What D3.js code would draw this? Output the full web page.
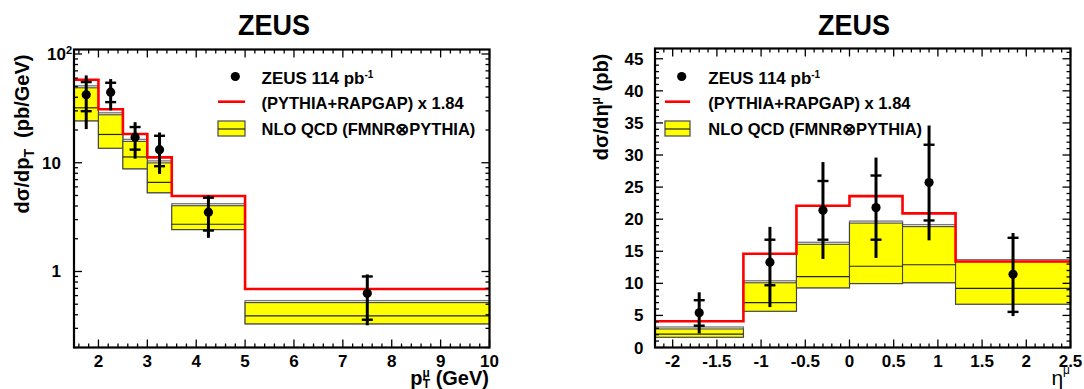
<!DOCTYPE html>
<html><head><meta charset="utf-8">
<script src="https://cdn.jsdelivr.net/npm/d3@7"></script>
<style>
body{margin:0;background:#fff;}
text{font-family:"Liberation Sans",Arial,Helvetica,sans-serif;font-weight:bold;fill:#000;}
</style></head>
<body>
<svg id="chart" width="1084" height="389"></svg>
<script>
// ---------- data: muon pT ----------
const ptEdges   = [1.5, 2, 2.5, 3, 3.5, 5, 10];
const ptMC      = [58, 31, 18.4, 11.2, 4.95, 0.69];   // (PYTHIA+RAPGAP) x 1.84
const ptNloHi   = [51, 28.8, 16.4, 10.4, 4.2, 0.54];
const ptNloMid  = [32, 18.2, 11.3, 6.6, 2.72, 0.39];
const ptNloLo   = [24.3, 13.6, 8.8, 5.3, 2.43, 0.33];
const ptX       = [1.75, 2.25, 2.75, 3.25, 4.25, 7.5];
const ptY       = [42.2, 44.6, 17.2, 13.2, 3.51, 0.63];
const ptStatHi  = [55.2, 54.4, 21.3, 17.7, 4.77, 0.9];
const ptStatLo  = [29.8, 36.1, 13.2, 9.3, 2.38, 0.36];
const ptTotHi   = [63.5, 58.8, 23.6, 19.0, 5.0, 0.94];
const ptTotLo   = [20.4, 30.3, 10.9, 7.9, 2.04, 0.32];

// ---------- data: muon eta ----------
const etaEdges  = [-2.2, -1.2, -0.6, 0, 0.6, 1.2, 2.5];
const etaMC     = [4.1, 14.6, 22.1, 23.6, 20.9, 13.4];
const etaNloHi  = [3.2, 10.4, 16.4, 19.7, 19.15, 13.7];
const etaNloMid = [2.07, 7.0, 11.05, 12.66, 12.9, 9.2];
const etaNloLo  = [1.6, 5.65, 9.3, 9.97, 10.1, 6.75];
const etaX      = [-1.7, -0.9, -0.3, 0.3, 0.9, 1.85];
const etaY      = [5.4, 13.3, 21.4, 21.8, 25.7, 11.4];
const etaStatHi = [7.37, 16.8, 25.95, 26.8, 31.6, 17.1];
const etaStatLo = [3.4, 9.7, 16.8, 16.8, 19.8, 5.55];
const etaTotHi  = [8.6, 18.8, 28.9, 29.6, 34.6, 17.85];
const etaTotLo  = [2.2, 6.3, 13.8, 13.96, 16.7, 4.9];

// ---------- tick labels ----------
const ptXTicks  = [2, 3, 4, 5, 6, 7, 8, 9, 10];
const ptYTicks  = [1, 10, 100];
const etaXTicks = [-2, -1.5, -1, -0.5, 0, 0.5, 1, 1.5, 2, 2.5];
const etaYTicks = [0, 5, 10, 15, 20, 25, 30, 35, 40, 45];
const legendLabels = ["ZEUS 114 pb", "(PYTHIA+RAPGAP) x 1.84", "NLO QCD (FMNR\u2297PYTHIA)"];

const svg = d3.select("#chart");
const RED = "#ff0000", YEL = "#ffff00";

function panel(o) {
  const g = svg.append("g");
  const x = o.x, y = o.y;
  const [x0, x1] = x.range(), [yb, yt] = y.range();
  const n = o.edges.length - 1;
  const bins = d3.range(n).map(i => ({lo: o.edges[i], hi: o.edges[i+1], mc: o.mc[i],
      nhi: o.nhi[i], nmid: o.nmid[i], nlo: o.nlo[i]}));

  // NLO band: gray outline, yellow fill slightly inset at the top
  g.selectAll("rect.band").data(bins).join("rect")
    .attr("x", d => x(d.lo)).attr("width", d => x(d.hi) - x(d.lo))
    .attr("y", d => y(d.nhi)).attr("height", d => y(d.nlo) - y(d.nhi))
    .attr("fill", "#fff").attr("stroke", "#777").attr("stroke-width", 1.3);
  g.selectAll("rect.fill").data(bins).join("rect")
    .attr("x", d => x(d.lo)).attr("width", d => x(d.hi) - x(d.lo))
    .attr("y", d => y(d.nhi) + 2).attr("height", d => y(d.nlo) - y(d.nhi) - 2)
    .attr("fill", YEL).attr("stroke", "#444").attr("stroke-width", 1.1);
  g.selectAll("line.mid").data(bins).join("line")
    .attr("x1", d => x(d.lo)).attr("x2", d => x(d.hi))
    .attr("y1", d => y(d.nmid)).attr("y2", d => y(d.nmid))
    .attr("stroke", "#222").attr("stroke-width", 1.2);

  // MC step line
  const pts = [];
  bins.forEach(d => { pts.push([d.lo, d.mc]); pts.push([d.hi, d.mc]); });
  g.append("path").attr("d", d3.line().x(d => x(d[0])).y(d => y(d[1]))(pts))
    .attr("fill", "none").attr("stroke", RED).attr("stroke-width", 2.6);

  // data points
  const pd = d3.range(n).map(i => ({x: o.px[i], y: o.py[i], sh: o.sh[i], sl: o.sl[i], th: o.th[i], tl: o.tl[i]}));
  const pg = g.append("g");
  pg.selectAll("line.tot").data(pd).join("line")
    .attr("x1", d => x(d.x)).attr("x2", d => x(d.x))
    .attr("y1", d => y(d.th)).attr("y2", d => y(d.tl))
    .attr("stroke", "#000").attr("stroke-width", 3);
  ["sh", "sl"].forEach(k => {
    pg.selectAll("line." + k).data(pd).join("line")
      .attr("x1", d => x(d.x) - 5.5).attr("x2", d => x(d.x) + 5.5)
      .attr("y1", d => y(d[k])).attr("y2", d => y(d[k]))
      .attr("stroke", "#000").attr("stroke-width", 2.4);
  });
  pg.selectAll("circle").data(pd).join("circle")
    .attr("cx", d => x(d.x)).attr("cy", d => y(d.y)).attr("r", 4.6).attr("fill", "#000");

  // ticks
  const tg = g.append("g").attr("stroke", "#000").attr("stroke-width", 1.3);
  o.xMajor.forEach(v => {
    tg.append("line").attr("x1", x(v)).attr("x2", x(v)).attr("y1", yb).attr("y2", yb - 8);
    tg.append("line").attr("x1", x(v)).attr("x2", x(v)).attr("y1", yt).attr("y2", yt + 8);
  });
  o.xMinor.forEach(v => {
    tg.append("line").attr("x1", x(v)).attr("x2", x(v)).attr("y1", yb).attr("y2", yb - 4);
    tg.append("line").attr("x1", x(v)).attr("x2", x(v)).attr("y1", yt).attr("y2", yt + 4);
  });
  o.yMajor.forEach(v => {
    tg.append("line").attr("x1", x0).attr("x2", x0 + 8).attr("y1", y(v)).attr("y2", y(v));
    tg.append("line").attr("x1", x1).attr("x2", x1 - 8).attr("y1", y(v)).attr("y2", y(v));
  });
  o.yMinor.forEach(v => {
    tg.append("line").attr("x1", x0).attr("x2", x0 + 4).attr("y1", y(v)).attr("y2", y(v));
    tg.append("line").attr("x1", x1).attr("x2", x1 - 4).attr("y1", y(v)).attr("y2", y(v));
  });

  // frame
  g.append("rect").attr("x", x0).attr("y", yt).attr("width", x1 - x0).attr("height", yb - yt)
    .attr("fill", "none").attr("stroke", "#000").attr("stroke-width", 2.2);

  // x tick labels
  g.selectAll("text.xl").data(o.xTicks).join("text")
    .attr("x", d => x(d)).attr("y", yb + 19.5).attr("text-anchor", "middle")
    .attr("font-size", 17).text(d => String(d));

  // title
  g.append("text").attr("x", o.titleX).attr("y", 35).attr("text-anchor", "middle")
    .attr("font-size", 30).attr("textLength", 72).attr("lengthAdjust", "spacingAndGlyphs").text("ZEUS");

  // legend
  const L = o.leg;
  g.append("circle").attr("cx", L.mx).attr("cy", 76.5).attr("r", 4.6).attr("fill", "#000");
  g.append("line").attr("x1", L.x0).attr("x2", L.x1).attr("y1", 101.7).attr("y2", 101.7)
    .attr("stroke", RED).attr("stroke-width", 2.6);
  g.append("rect").attr("x", L.x0).attr("y", 121).attr("width", L.x1 - L.x0).attr("height", 15)
    .attr("fill", YEL).attr("stroke", "#555").attr("stroke-width", 1.3);
  g.append("line").attr("x1", L.x0).attr("x2", L.x1).attr("y1", 129).attr("y2", 129)
    .attr("stroke", "#222").attr("stroke-width", 1.2);
  const t1 = g.append("text").attr("x", L.tx).attr("y", 83.5).attr("font-size", 17).text(legendLabels[0]);
  t1.append("tspan").attr("dy", -6).attr("font-size", 10).text("-1");
  g.append("text").attr("x", L.tx).attr("y", 108.5).attr("font-size", 16.5).text(legendLabels[1]);
  g.append("text").attr("x", L.tx).attr("y", 134.5).attr("font-size", 16.5).text(legendLabels[2]);
  return g;
}

// ---------- left panel: pT ----------
const xPt = d3.scaleLinear().domain([1.5, 10]).range([74, 489.5]);
const yPt = d3.scaleLog().domain([0.2, 110]).range([347.5, 49.5]);
const logMinor = [];
[0.1, 1, 10].forEach(dec => d3.range(2, 10).forEach(k => { const v = k * dec; if (v >= 0.2 && v <= 110) logMinor.push(v); }));
const gL = panel({
  x: xPt, y: yPt, edges: ptEdges, mc: ptMC, nhi: ptNloHi, nmid: ptNloMid, nlo: ptNloLo,
  px: ptX, py: ptY, sh: ptStatHi, sl: ptStatLo, th: ptTotHi, tl: ptTotLo,
  xMajor: ptXTicks, xMinor: d3.range(16, 100, 2).map(v => v / 10).filter(v => Math.abs(v - Math.round(v)) > 1e-6),
  yMajor: ptYTicks, yMinor: logMinor, xTicks: ptXTicks, titleX: 274,
  leg: {mx: 235.3, x0: 218, x1: 245, tx: 261.5}
});
// left y labels
ptYTicks.forEach(v => {
  if (v === 100) {
    const t = gL.append("text").attr("x", 72).attr("y", yPt(v) + 6).attr("text-anchor", "end").attr("font-size", 17).text("10");
    t.append("tspan").attr("dy", -6).attr("font-size", 11).text("2");
  } else {
    gL.append("text").attr("x", 61).attr("y", yPt(v) + 6).attr("text-anchor", "end").attr("font-size", 17).text(String(v));
  }
});
// left axis titles
const yt1 = gL.append("text").attr("transform", "translate(29,134) rotate(-90)").attr("text-anchor", "middle")
  .attr("font-size", 20).style("white-space", "pre");
yt1.append("tspan").text("d\u03c3/dp");
yt1.append("tspan").attr("font-size", 14).attr("dy", 5).text("T");
yt1.append("tspan").attr("dy", -5).text("  (pb/GeV)");
const xt1 = gL.append("text").attr("x", 489).attr("y", 384.5).attr("text-anchor", "end").attr("font-size", 20).style("white-space", "pre");
xt1.append("tspan").text("p");
xt1.append("tspan").attr("font-size", 12).attr("dy", -8).text("\u03bc");
xt1.append("tspan").attr("font-size", 12).attr("dx", -7).attr("dy", 11).text("T");
xt1.append("tspan").attr("dy", -3).text(" (GeV)");

// ---------- right panel: eta ----------
const xEta = d3.scaleLinear().domain([-2.2, 2.5]).range([655, 1070.5]);
const yEta = d3.scaleLinear().domain([0, 46.6]).range([347.5, 48.5]);
const gR = panel({
  x: xEta, y: yEta, edges: etaEdges, mc: etaMC, nhi: etaNloHi, nmid: etaNloMid, nlo: etaNloLo,
  px: etaX, py: etaY, sh: etaStatHi, sl: etaStatLo, th: etaTotHi, tl: etaTotLo,
  xMajor: etaXTicks, xMinor: d3.range(-21, 25).map(v => v / 10).filter(v => Math.abs(v * 2 - Math.round(v * 2)) > 1e-6),
  yMajor: etaYTicks, yMinor: d3.range(1, 47).filter(v => v % 5 !== 0), xTicks: etaXTicks, titleX: 854,
  leg: {mx: 681.7, x0: 665, x1: 690, tx: 708.3}
});
etaYTicks.forEach(v => {
  gR.append("text").attr("x", 643.5).attr("y", yEta(v) + 6).attr("text-anchor", "end").attr("font-size", 17).text(String(v));
});
const yt2 = gR.append("text").attr("transform", "translate(608,107) rotate(-90)").attr("text-anchor", "middle")
  .attr("font-size", 20).style("white-space", "pre");
yt2.append("tspan").text("d\u03c3/d\u03b7");
yt2.append("tspan").attr("font-size", 12).attr("dy", -8).text("\u03bc");
yt2.append("tspan").attr("dy", 8).text(" (pb)");
const xt2 = gR.append("text").attr("x", 1070).attr("y", 385).attr("text-anchor", "end").attr("font-size", 21)
  .style("font-weight", "normal");
xt2.append("tspan").text("\u03b7");
xt2.append("tspan").attr("font-size", 12).attr("dy", -11).text("\u03bc");
</script>
</body></html>
